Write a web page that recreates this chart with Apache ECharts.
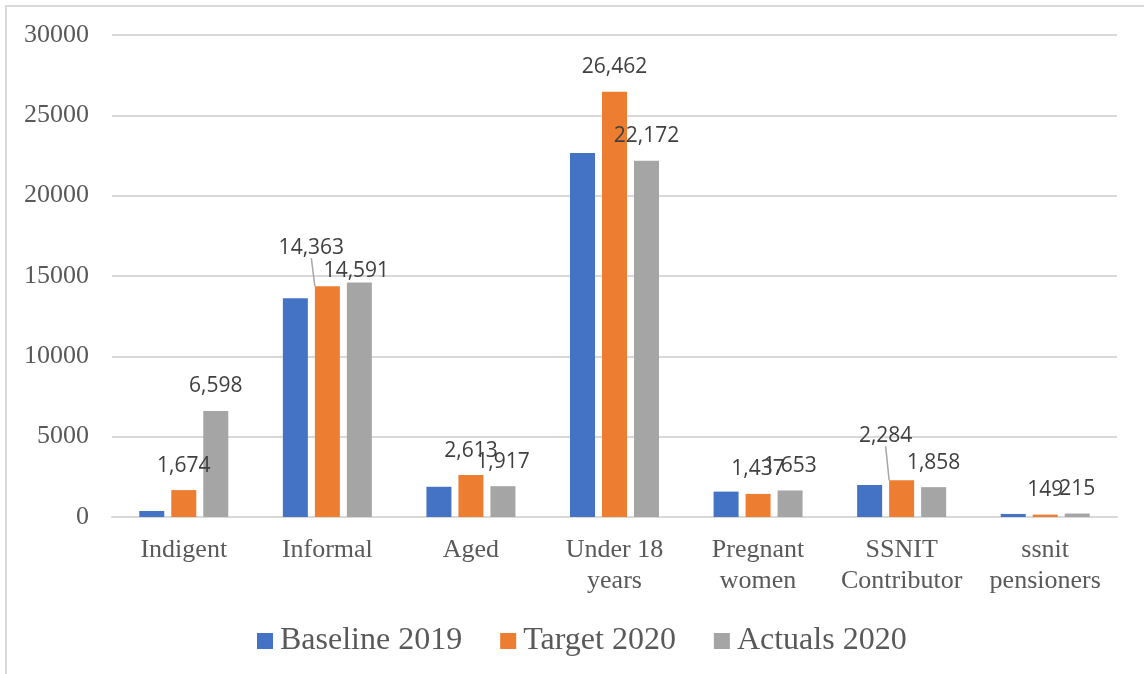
<!DOCTYPE html>
<html>
<head>
<meta charset="utf-8">
<script src="https://cdn.jsdelivr.net/npm/echarts@6/dist/echarts.min.js"></script>
<style>
    html, body { margin: 0; padding: 0; background: #fff; }
    #chart { width: 1144px; height: 674px; }
</style>
</head>
<body>
<div id="chart"></div>
<script>
    // categories and values
    var categories = ['Indigent', 'Informal', 'Aged', 'Under 18\nyears', 'Pregnant\nwomen', 'SSNIT\nContributor', 'ssnit\npensioners'];
    var baseline2019 = [375, 13620, 1880, 22650, 1580, 1990, 190];
    var target2020 = [1674, 14363, 2613, 26462, 1437, 2284, 149];
    var actuals2020 = [6598, 14591, 1917, 22172, 1653, 1858, 215];
    var yTicks = { min: 0, max: 30000, interval: 5000 };

    var fmt = function (p) { return Number(p.value).toLocaleString('en-US'); };

    // labels that were dragged away from the bar in the original (with a leader line)
    var withLine = function (arr, idx) {
        return arr.map(function (v, i) {
            return idx.indexOf(i) >= 0 ? { value: v, labelLine: { show: true } } : v;
        });
    };

    var labelStyle = {
        show: true,
        position: 'top',
        distance: 14,
        fontFamily: 'Open Sans',
        fontSize: 21,
        color: '#404040',
        formatter: fmt
    };

    var myChart = echarts.init(document.getElementById('chart'));
    myChart.setOption({
        animation: false,
        graphic: [{
            type: 'rect',
            shape: { x: 6, y: 6, width: 1160, height: 720 },
            style: { fill: 'none', stroke: '#d9d9d9', lineWidth: 2 },
            silent: true
        }],
        legend: {
            left: 252,
            top: 620,
            itemWidth: 16,
            itemHeight: 16,
            itemGap: 38,
            icon: 'rect',
            textStyle: {
                fontFamily: 'Liberation Serif',
                fontSize: 32,
                color: '#595959',
                padding: [0, 0, 0, 2]
            },
            data: ['Baseline 2019', 'Target 2020', 'Actuals 2020']
        },
        grid: { left: 112, right: 27, top: 35, bottom: 157 },
        xAxis: {
            type: 'category',
            data: categories,
            axisLine: { lineStyle: { color: '#d9d9d9', width: 2 } },
            axisTick: { show: false },
            axisLabel: {
                fontFamily: 'Liberation Serif',
                fontSize: 26,
                lineHeight: 31,
                color: '#595959',
                margin: 18,
                interval: 0
            }
        },
        yAxis: {
            type: 'value',
            min: yTicks.min,
            max: yTicks.max,
            interval: yTicks.interval,
            axisLine: { show: false },
            axisTick: { show: false },
            splitLine: { lineStyle: { color: '#d9d9d9', width: 2 } },
            axisLabel: {
                fontFamily: 'Liberation Serif',
                fontSize: 26,
                color: '#595959',
                margin: 23,
                formatter: function (v) { return String(v); }
            }
        },
        series: [
            {
                name: 'Baseline 2019',
                type: 'bar',
                color: '#4472C4',
                barWidth: 25,
                barGap: '28%',
                data: baseline2019
            },
            {
                name: 'Target 2020',
                type: 'bar',
                color: '#ED7D31',
                barWidth: 25,
                barGap: '28%',
                label: labelStyle,
                labelLine: { lineStyle: { color: '#a6a6a6', width: 1.5 } },
                labelLayout: function (p) {
                    if (p.dataIndex === 1) return { dx: -16, dy: -14 };
                    if (p.dataIndex === 5) return { dx: -16, dy: -20 };
                    return {};
                },
                data: withLine(target2020, [1, 5])
            },
            {
                name: 'Actuals 2020',
                type: 'bar',
                color: '#A5A5A5',
                barWidth: 25,
                barGap: '28%',
                label: labelStyle,
                labelLayout: function (p) {
                    if (p.dataIndex === 1) return { dx: -3, dy: 13 };
                    return {};
                },
                data: actuals2020
            }
        ]
    });
</script>
</body>
</html>
